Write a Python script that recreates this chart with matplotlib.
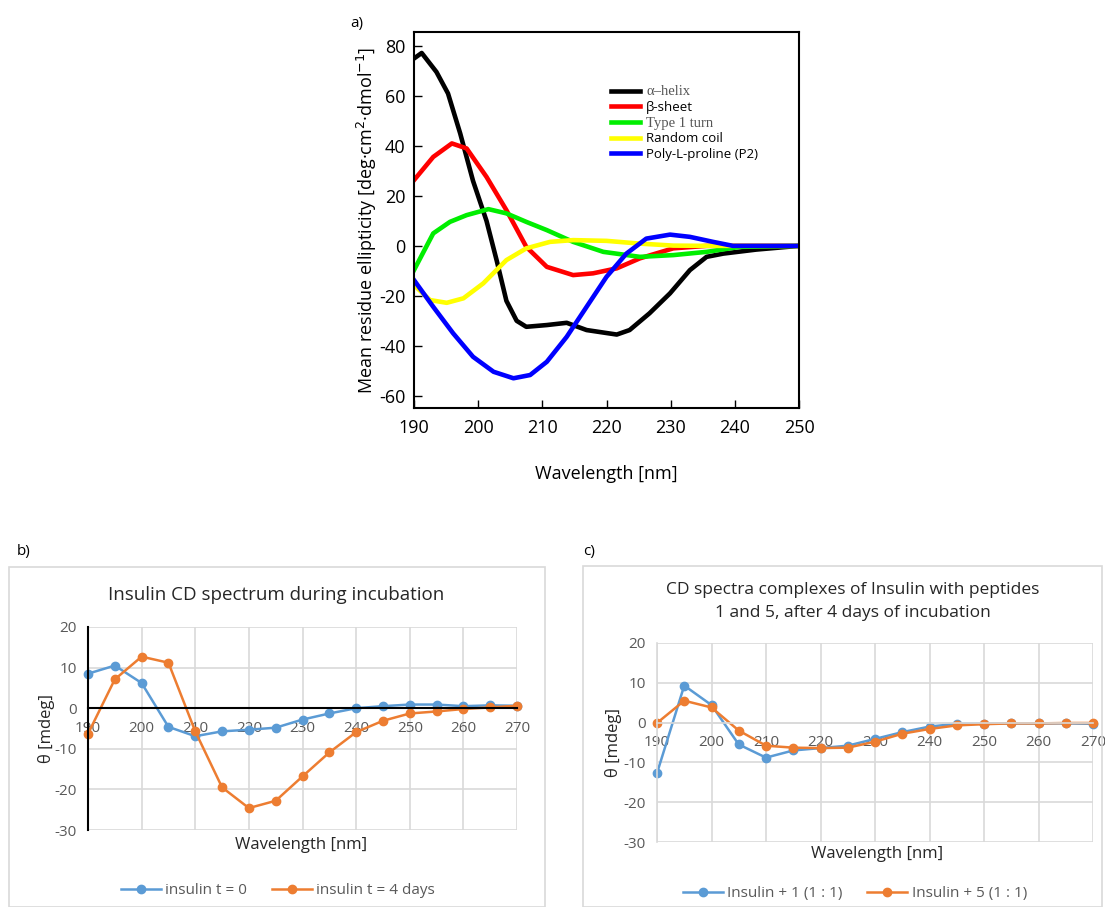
import matplotlib
matplotlib.use("Agg")
import matplotlib.pyplot as plt
from matplotlib.patches import Rectangle

plt.rcParams['font.family'] = ['Open Sans', 'DejaVu Sans']
plt.rcParams['axes.unicode_minus'] = False

# ---- panel a: reference CD spectra of secondary structures
wl_helix = [190, 191.2, 193.5, 195.3, 197.2, 199.2, 201.3, 202.9, 204.4, 206, 207.5, 210.7,
            213.8, 216.9, 221.6, 223.6, 226.7, 229.9, 233, 235.6, 238.2, 243.3, 250]
helix = [75, 77.2, 69.6, 61, 45, 26, 10, -6, -22, -30, -32.4, -31.7,
         -30.8, -33.7, -35.5, -33.7, -27, -19, -9.7, -4.4, -3.1, -1.5, 0]
wl_sheet = [190, 193, 195.9, 198.2, 201.3, 204.4, 207.5, 210.7, 214.8, 217.9, 221.6, 225.2, 230.4, 235.6, 250]
sheet = [26.3, 35.6, 41, 39, 27.6, 14.3, -0.4, -8.4, -11.7, -11, -9, -5, -1, 0, 0]
wl_turn = [190, 193, 195.6, 198.2, 201.6, 204.4, 207.5, 210.7, 214.8, 219.5, 225.2, 230.4, 235.6, 240.8, 250]
turn = [-9.7, 5, 9.6, 12.3, 14.7, 13, 9.6, 6.3, 1.6, -2.4, -4.4, -3.7, -2.4, -0.4, 0]
wl_coil = [190, 192.5, 195.1, 197.7, 200.8, 204.4, 207.5, 211.2, 214.8, 220, 225.2, 230.4, 235.6, 250]
coil = [-15.7, -21.7, -22.8, -21, -15, -5.7, -1, 1.6, 2.3, 2, 0.9, 0.1, 0, 0]
wl_ppii = [190, 193, 196.1, 199.2, 202.4, 205.5, 208.1, 210.7, 213.8, 216.9, 220, 223.1,
           226.2, 229.9, 233, 236.6, 239.7, 250]
ppii = [-13.7, -24.4, -35, -44.4, -50.4, -53, -51.7, -46.4, -36.4, -24.4, -12.4, -3.1,
        2.9, 4.5, 3.6, 1.6, 0, 0]

# ---- panels b and c: measured insulin spectra
wl = [190, 195, 200, 205, 210, 215, 220, 225, 230, 235, 240, 245, 250, 255, 260, 265, 270]
ins_t0 = [8.5, 10.5, 6.2, -4.6, -6.9, -5.7, -5.3, -4.8, -2.8, -1.3, 0, 0.5, 0.9, 0.9, 0.5, 0.7, 0.6]
ins_t4 = [-6.3, 7.1, 12.7, 11.2, -5.7, -19.5, -24.6, -22.8, -16.8, -10.9, -5.9, -3.1, -1.3, -0.8, -0.2, 0.2, 0.6]
ins_p1 = [-12.7, 9.3, 4.4, -5.5, -8.8, -7.0, -6.4, -5.8, -4.1, -2.4, -1.0, -0.3, -0.25, -0.2, -0.2, -0.2, -0.3]
ins_p5 = [-0.1, 5.5, 3.8, -2.0, -5.8, -6.3, -6.4, -6.3, -4.8, -2.8, -1.6, -0.7, -0.4, -0.2, -0.2, -0.1, -0.1]

W, H = 1105, 907
fig = plt.figure(figsize=(W / 100, H / 100), dpi=100)


def box(l, t, r, b):
    return [l / W, 1 - b / H, (r - l) / W, (b - t) / H]


# panel a
ax = fig.add_axes(box(414, 32, 799, 408))
lw = 3.3
ax.plot(wl_helix, helix, color='black', lw=lw, label='α–helix', solid_joinstyle='round')
ax.plot(wl_sheet, sheet, color='#ff0000', lw=lw, label='β-sheet', solid_joinstyle='round')
ax.plot(wl_turn, turn, color='#00ee00', lw=lw, label='Type 1 turn', solid_joinstyle='round')
ax.plot(wl_coil, coil, color='#ffff00', lw=lw, label='Random coil', solid_joinstyle='round')
ax.plot(wl_ppii, ppii, color='#0000ff', lw=lw, label='Poly-L-proline (P2)', solid_joinstyle='round')
ax.set_xlim(190, 250)
ax.set_ylim(-64.9, 85.6)
ax.set_xticks(range(190, 251, 10))
ax.set_yticks(range(-60, 81, 20))
ax.tick_params(direction='in', length=6, width=1, labelsize=13, pad=8)
ax.tick_params(axis='y', pad=6)
for s in ax.spines.values():
    s.set_linewidth(1.5)
ax.set_ylabel('Mean residue ellipticity [deg·cm$^{2}$·dmol$^{-1}$]', fontsize=13, labelpad=0)
ax.set_xlabel('Wavelength [nm]', fontsize=13, labelpad=20)
leg = ax.legend(loc='upper left', bbox_to_anchor=(0.48, 0.89), frameon=False,
                fontsize=9.5, handlelength=2.2, handletextpad=0.5, labelspacing=0.2)
for i, t in enumerate(leg.get_texts()):
    if i in (0, 2):
        t.set_family(['Liberation Serif', 'DejaVu Serif'])
        t.set_color('#555555')
        t.set_fontsize(10.5)
fig.text(357 / W, 1 - 23 / H, 'a)', fontsize=11, ha='center', va='center')

# panels b and c
blue = '#5b9bd5'
orange = '#ed7d31'
grid_c = '#d9d9d9'
tick_c = '#595959'


def insulin_panel(pos, y1, y2, lab1, lab2, dark_axes, ypad):
    a = fig.add_axes(pos)
    a.set_xlim(190, 270)
    a.set_ylim(-30, 20)
    a.set_xticks(range(190, 271, 10))
    a.set_yticks(range(-30, 21, 10))
    a.grid(True, color=grid_c, lw=1.2)
    a.set_axisbelow(True)
    a.spines['top'].set_visible(False)
    a.spines['right'].set_visible(False)
    a.spines['bottom'].set_position(('data', 0))
    ax_c = 'black' if dark_axes else grid_c
    a.spines['bottom'].set_color(ax_c)
    a.spines['left'].set_color(ax_c)
    a.spines['bottom'].set_linewidth(1.5 if dark_axes else 1.2)
    a.spines['left'].set_linewidth(1.5 if dark_axes else 1.2)
    a.tick_params(length=0, labelsize=11, labelcolor=tick_c, pad=8)
    a.tick_params(axis='x', pad=9)
    a.plot(wl, y1, color=blue, lw=1.8, marker='o', ms=6, label=lab1, clip_on=False)
    a.plot(wl, y2, color=orange, lw=1.8, marker='o', ms=6, label=lab2, clip_on=False)
    a.set_ylabel('θ [mdeg]', fontsize=12, color='#262626', labelpad=ypad)
    return a


axb = insulin_panel(box(88, 627, 517, 830), ins_t0, ins_t4, 'insulin t = 0', 'insulin t = 4 days', True, 0)
axc = insulin_panel(box(657, 643, 1093, 842), ins_p1, ins_p5, 'Insulin + 1 (1 : 1)', 'Insulin + 5 (1 : 1)', False, 1)

fig.add_artist(Rectangle((9 / W, 1 - 907 / H), (545 - 9) / W, (907 - 567) / H,
                         transform=fig.transFigure, fill=False, ec=grid_c, lw=1.2))
fig.add_artist(Rectangle((583 / W, 1 - 907 / H), (1102 - 583) / W, (907 - 566) / H,
                         transform=fig.transFigure, fill=False, ec=grid_c, lw=1.2))

fig.text(24 / W, 1 - 552 / H, 'b)', fontsize=11, ha='center', va='center')
fig.text(589 / W, 1 - 552 / H, 'c)', fontsize=11, ha='center', va='center')
fig.text(276 / W, 1 - 595 / H, 'Insulin CD spectrum during incubation', fontsize=13.5,
         color='#262626', ha='center', va='center')
fig.text(853 / W, 1 - 601.5 / H, 'CD spectra complexes of Insulin with peptides\n1 and 5, after 4 days of incubation',
         fontsize=12.5, color='#262626', ha='center', va='center', linespacing=1.55)
fig.text(301 / W, 1 - 845 / H, 'Wavelength [nm]', fontsize=12, color='#262626', ha='center', va='center')
fig.text(877 / W, 1 - 854 / H, 'Wavelength [nm]', fontsize=12, color='#262626', ha='center', va='center')

for a, cx, cy in ((axb, 278, 891), (axc, 855, 894)):
    fig.legend(*a.get_legend_handles_labels(), loc='center', bbox_to_anchor=(cx / W, 1 - cy / H),
               ncol=2, frameon=False, fontsize=11, handlelength=2.6, columnspacing=1.6,
               handletextpad=0.3, labelcolor=tick_c)

fig.savefig('out.png', dpi=100)
